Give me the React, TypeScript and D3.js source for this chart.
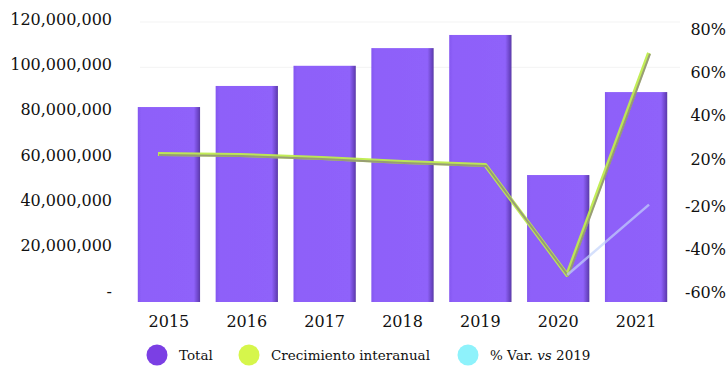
import React from "react";
import * as d3 from "d3";

const years = ["2015", "2016", "2017", "2018", "2019", "2020", "2021"];
const totals = [81.6e6, 90.9e6, 99.8e6, 107.6e6, 113.4e6, 51.6e6, 88.2e6];
const growth = [22.8, 22.3, 20.9, 18.3, 15.7, -51.6, 69.4];
const varVs2019: (number | null)[] = [null, null, null, null, null, -51.6, -18];
const leftTicks = [0, 20e6, 40e6, 60e6, 80e6, 100e6, 120e6];
const rightTicks = [80, 60, 40, 20, -20, -40, -60];
const legendItems = [
  { key: "Total", color: "#7b3fe4" },
  { key: "Crecimiento interanual", color: "#d6f64b" },
  { key: "% Var. vs 2019", color: "#8ef2fb" },
];

const W = 727;
const H = 366;
const FONT = "'DejaVu Serif', serif";

export default function App() {
  const x = d3.scaleBand<string>().domain(years).range([130, 675]).paddingInner(0.2).paddingOuter(0.1);
  const xLine = d3.scalePoint<string>().domain(years).range([158, 649]);
  const yL = d3.scaleLinear().domain([0, 120e6]).range([292, 20]);
  const yR = d3.scaleLinear().domain([-60, -20, 20, 80]).range([293, 207, 160, 30]);
  const fmt = d3.format(",");
  const baseExtra = 10;

  const lineGen = d3
    .line<number | null>()
    .defined((d) => d !== null)
    .x((_, i) => xLine(years[i])!)
    .y((d) => yR(d as number));

  const legendX = [157, 249, 468];

  return (
    <svg width={W} height={H} style={{ position: "absolute", left: 0, top: 0, background: "#fff" }}>
      <defs>
        <linearGradient id="barGrad" x1="0" x2="1" y1="0" y2="0">
          <stop offset="0" stopColor="#8457f0" />
          <stop offset="0.06" stopColor="#8e60f9" />
          <stop offset="0.9" stopColor="#8f62fa" />
          <stop offset="0.97" stopColor="#6a44c4" />
          <stop offset="1" stopColor="#5a3aa6" />
        </linearGradient>
        <filter id="soft" x="-10%" y="-10%" width="120%" height="120%">
          <feGaussianBlur stdDeviation="0.6" />
        </filter>
      </defs>
      {leftTicks.slice(5).map((t) => (
        <line key={t} x1={140} x2={680} y1={yL(t) + 2} y2={yL(t) + 2} stroke="#f3f3f3" strokeWidth={1} />
      ))}
      <g filter="url(#soft)">
        {years.map((yr, i) => (
          <rect
            key={yr}
            x={x(yr)}
            y={yL(totals[i])}
            width={x.bandwidth()}
            height={yL(0) + baseExtra - yL(totals[i])}
            fill="url(#barGrad)"
          />
        ))}
      </g>
      <path d={lineGen(growth) || ""} fill="none" stroke="#bfec4e" strokeWidth={4} strokeLinejoin="round" opacity={0.95} />
      <path
        d={lineGen(growth) || ""}
        fill="none"
        stroke="#8d8a7c"
        strokeWidth={2}
        strokeLinejoin="round"
        opacity={0.8}
        transform="translate(1,1)"
      />
      <path d={lineGen(varVs2019) || ""} fill="none" stroke="#c3d3fb" strokeWidth={2.5} opacity={0.7} />
      {leftTicks.map((t) => (
        <text key={t} x={112} y={yL(t)} textAnchor="end" dominantBaseline="middle" fontFamily={FONT} fontSize={16} fill="#111">
          {t === 0 ? "-" : fmt(t)}
        </text>
      ))}
      {rightTicks.map((t) => (
        <text key={t} x={726} y={yR(t)} textAnchor="end" dominantBaseline="middle" fontFamily={FONT} fontSize={16} fill="#111">
          {t + "%"}
        </text>
      ))}
      {years.map((yr) => (
        <text key={yr} x={x(yr)! + x.bandwidth() / 2} y={322} textAnchor="middle" dominantBaseline="middle" fontFamily={FONT} fontSize={16} fill="#111">
          {yr}
        </text>
      ))}
      {legendItems.map((it, i) => (
        <g key={it.key}>
          <circle cx={legendX[i]} cy={355} r={10.5} fill={it.color} />
          <text x={legendX[i] + 22} y={356} dominantBaseline="middle" fontFamily={FONT} fontSize={13.5} fill="#111">
            {it.key === "% Var. vs 2019" ? (
              <>
                {"% Var. "}
                <tspan fontStyle="italic">vs</tspan>
                {" 2019"}
              </>
            ) : (
              it.key
            )}
          </text>
        </g>
      ))}
    </svg>
  );
}
